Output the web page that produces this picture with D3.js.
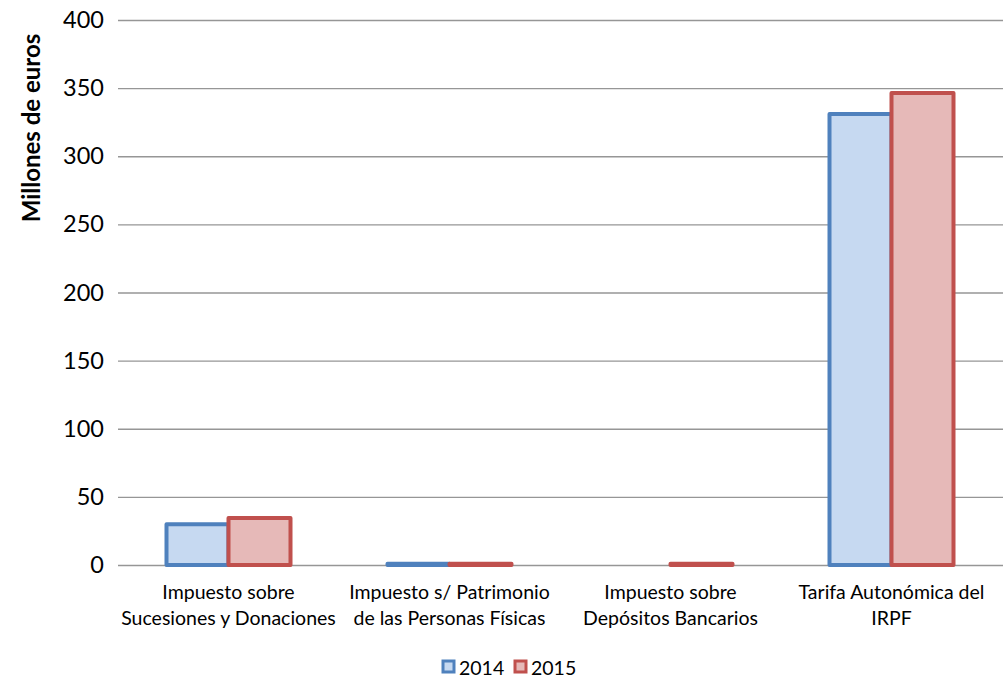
<!DOCTYPE html>
<html><head><meta charset="utf-8">
<script src="https://cdn.jsdelivr.net/npm/d3@7/dist/d3.min.js"></script>
<style>body{margin:0;background:#fff;} text{font-family:Lato,"Open Sans",sans-serif;fill:#000;}</style>
</head><body>
<svg id="c" width="1003" height="685"></svg>
<script>
const categories = [
  ["Impuesto sobre","Sucesiones y Donaciones"],
  ["Impuesto s/ Patrimonio","de las Personas Físicas"],
  ["Impuesto sobre","Depósitos Bancarios"],
  ["Tarifa Autonómica del","IRPF"]
];
const series = ["2014","2015"];
const values2014 = [30, 1, 0, 331];
const values2015 = [34.5, 1, 1, 346.5];
const yTicks = [0,50,100,150,200,250,300,350,400];
const fills = ["#c6d9f1","#e6b9b8"];
const strokes = ["#4f81bd","#c0504d"];

(function(){
const svg = d3.select("#c");
const mL = 118, mR = 1002, mT = 20, mB = 565;
const x = d3.scaleBand().domain(d3.range(categories.length)).range([mL,mR]);
const y = d3.scaleLinear().domain([0,400]).range([mB,mT]);
const pairW = 124;
const xs = d3.scaleBand().domain(series).range([0,pairW]);

const ya = svg.append("g").attr("transform",`translate(${mL},0)`)
  .call(d3.axisLeft(y).tickValues(yTicks).tickSize(-(1003-mL)).tickPadding(14));
ya.select(".domain").remove();
ya.selectAll(".tick line").attr("stroke","#969696").attr("stroke-width",1.3);
ya.selectAll(".tick text").style("font-size","23.5px").attr("fill","#000");

const data = [values2014, values2015];
series.forEach((s,si)=>{
  svg.append("g").selectAll("rect").data(data[si]).join("rect")
    .attr("x",(d,i)=>x(i)+(x.bandwidth()-pairW)/2+xs(s))
    .attr("width",xs.bandwidth())
    .attr("y",d=>y(d))
    .attr("height",d=>Math.max(0,mB-y(d)))
    .attr("fill",fills[si]).attr("stroke",strokes[si]).attr("stroke-width",4)
    .attr("stroke-linejoin","round")
    .style("display",d=>d>0?null:"none");
});

categories.forEach((lines,i)=>{
  const t = svg.append("text").attr("text-anchor","middle").style("font-size","19.5px");
  lines.forEach((l,k)=>t.append("tspan").attr("x",x(i)+x.bandwidth()/2).attr("y",599+k*26).text(l));
});

svg.append("text").attr("transform","translate(40,128) rotate(-90)")
  .attr("text-anchor","middle").style("font-size","24px").style("font-weight","bold")
  .text("Millones de euros");

const lg = svg.append("g");
const lx = [443,515];
series.forEach((s,si)=>{
  lg.append("rect").attr("x",lx[si]).attr("y",661).attr("width",11).attr("height",11)
    .attr("fill",fills[si]).attr("stroke",strokes[si]).attr("stroke-width",3);
  lg.append("text").attr("x",lx[si]+16).attr("y",675).style("font-size","19.5px").text(s);
});
})();
</script>
</body></html>
